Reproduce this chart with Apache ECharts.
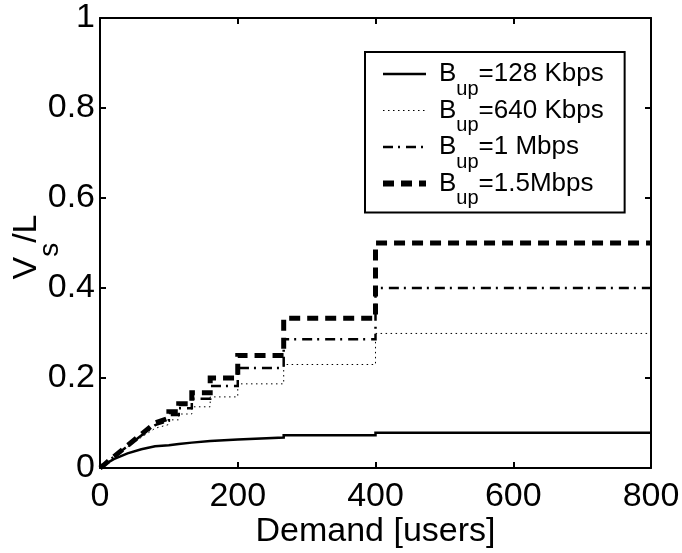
<!DOCTYPE html>
<html>
<head>
<meta charset="utf-8">
<script src="https://cdn.jsdelivr.net/npm/echarts@6/dist/echarts.min.js"></script>
<style>
html,body{margin:0;padding:0;background:#fff;}
#chart{width:682px;height:553px;}
</style>
</head>
<body>
<div id="chart"></div>
<script>
// Demand breakpoints (users), shared by all curves
const demand = [0, 5, 10, 20, 40, 60, 80, 100, 100, 114.3, 114.3, 133.3, 133.3, 160, 160, 200, 200, 266.7, 266.7, 400, 400, 800];
// V_s/L
const vs128 = [0, 0.0059, 0.011, 0.0197, 0.0326, 0.0416, 0.0483, 0.0507, 0.0534, 0.0534, 0.0564, 0.0564, 0.0598, 0.0598, 0.0636, 0.0636, 0.0679, 0.0679, 0.0729, 0.0729, 0.0786, 0.0786];
const vs640 = [0, 0.006, 0.0123, 0.0242, 0.0469, 0.0681, 0.0882, 0.0967, 0.107, 0.107, 0.120, 0.120, 0.136, 0.136, 0.158, 0.158, 0.187, 0.187, 0.230, 0.230, 0.299, 0.299];
const vs1M = [0, 0.006, 0.0124, 0.0247, 0.0488, 0.0723, 0.0952, 0.105, 0.118, 0.118, 0.133, 0.133, 0.154, 0.154, 0.182, 0.182, 0.222, 0.222, 0.286, 0.286, 0.4, 0.4];
const vs15M = [0, 0.006, 0.0125, 0.025, 0.05, 0.075, 0.1, 0.111, 0.125, 0.125, 0.143, 0.143, 0.167, 0.167, 0.2, 0.2, 0.25, 0.25, 0.333, 0.333, 0.5, 0.5];
const seriesNames = ['128', '640', '1M', '15M'];
const legendTexts = ['=128 Kbps', '=640 Kbps', '=1 Mbps', '=1.5Mbps'];
const xTicks = {min: 0, max: 800, interval: 200};
const yTicks = {min: 0, max: 1, interval: 0.2};

const FONT = 'Liberation Sans';
const pairs = (ys) => demand.map((x, i) => [x, ys[i]]);

const styles = [
  {width: 2.5, type: 'solid'},
  {width: 1, type: [1.5, 3.5]},
  {width: 2.5, type: [10, 5, 2, 6]},
  {width: 5, type: [11, 7]}
];
const valuesList = [vs128, vs640, vs1M, vs15M];

const series = seriesNames.map((n, i) => ({
  name: n,
  type: 'line',
  data: pairs(valuesList[i]),
  showSymbol: false,
  symbol: 'none',
  smooth: false,
  xAxisIndex: 0,
  yAxisIndex: 0,
  lineStyle: {color: '#000', width: styles[i].width, type: styles[i].type, cap: 'butt', join: 'miter'},
  itemStyle: {color: '#000'},
  z: 3 + (3 - i)
}));

const axisCommon = () => ({
  axisLine: {show: true, onZero: false, lineStyle: {color: '#000', width: 2}},
  axisTick: {show: true, inside: true, length: 6, lineStyle: {color: '#000', width: 2}},
  splitLine: {show: false}
});

const chart = echarts.init(document.getElementById('chart'), null, {renderer: 'canvas'});
chart.setOption({
  animation: false,
  backgroundColor: '#fff',
  grid: {left: 100, right: 31, top: 18, bottom: 85, containLabel: false, outerBoundsMode: 'none'},
  xAxis: [
    Object.assign({
      type: 'value', position: 'bottom', min: xTicks.min, max: xTicks.max, interval: xTicks.interval,
      name: 'Demand [users]', nameLocation: 'middle', nameGap: 47, nameMoveOverlap: false,
      nameTextStyle: {fontFamily: FONT, fontSize: 34, color: '#000'},
      axisLabel: {fontFamily: FONT, fontSize: 34, color: '#000', margin: 12}
    }, axisCommon()),
    Object.assign({
      type: 'value', position: 'top', min: xTicks.min, max: xTicks.max, interval: xTicks.interval,
      axisLabel: {show: false}
    }, axisCommon())
  ],
  yAxis: [
    Object.assign({
      type: 'value', position: 'left', min: yTicks.min, max: yTicks.max, interval: yTicks.interval,
      name: '{m|V}{s|s}{m|/L}', nameLocation: 'middle', nameGap: 50, nameRotate: 90, nameMoveOverlap: false,
      nameTextStyle: {
        fontFamily: FONT, fontSize: 34, color: '#000', padding: [0, 8, 0, 0],
        rich: {
          m: {fontFamily: FONT, fontSize: 34, color: '#000', lineHeight: 40, verticalAlign: 'top'},
          s: {fontFamily: FONT, fontSize: 28, color: '#000', lineHeight: 10, padding: [26, 0, 0, 0], verticalAlign: 'top'}
        }
      },
      axisLabel: {fontFamily: FONT, fontSize: 34, color: '#000', margin: 5}
    }, axisCommon()),
    Object.assign({
      type: 'value', position: 'right', min: yTicks.min, max: yTicks.max, interval: yTicks.interval,
      axisLabel: {show: false}
    }, axisCommon())
  ],
  legend: {
    show: true,
    orient: 'vertical',
    left: 365, top: 52,
    data: seriesNames.map((n, i) => ({name: n, lineStyle: {width: styles[i].width === 5 ? 6 : styles[i].width}})),
    itemWidth: 43, itemHeight: 14, itemGap: -1.5,
    itemStyle: {opacity: 0, color: 'transparent', borderWidth: 0},
    backgroundColor: '#fff',
    borderColor: '#000', borderWidth: 2, borderRadius: 0,
    padding: [9, 21, 4, 15],
    selectedMode: false,
    formatter: (name) => {
      const i = seriesNames.indexOf(name);
      return '{b|B}{u|up}{t|' + legendTexts[i] + '}';
    },
    textStyle: {
      fontFamily: FONT, fontSize: 26, color: '#000',
      rich: {
        b: {fontFamily: FONT, fontSize: 26, color: '#000', lineHeight: 26, verticalAlign: 'top', padding: [0, 0, 0, 8]},
        u: {fontFamily: FONT, fontSize: 20, color: '#000', lineHeight: 6, verticalAlign: 'top', padding: [18, 0, 0, 0]},
        t: {fontFamily: FONT, fontSize: 26, color: '#000', lineHeight: 26, verticalAlign: 'top'}
      }
    }
  },
  series: series
});
</script>
</body>
</html>
